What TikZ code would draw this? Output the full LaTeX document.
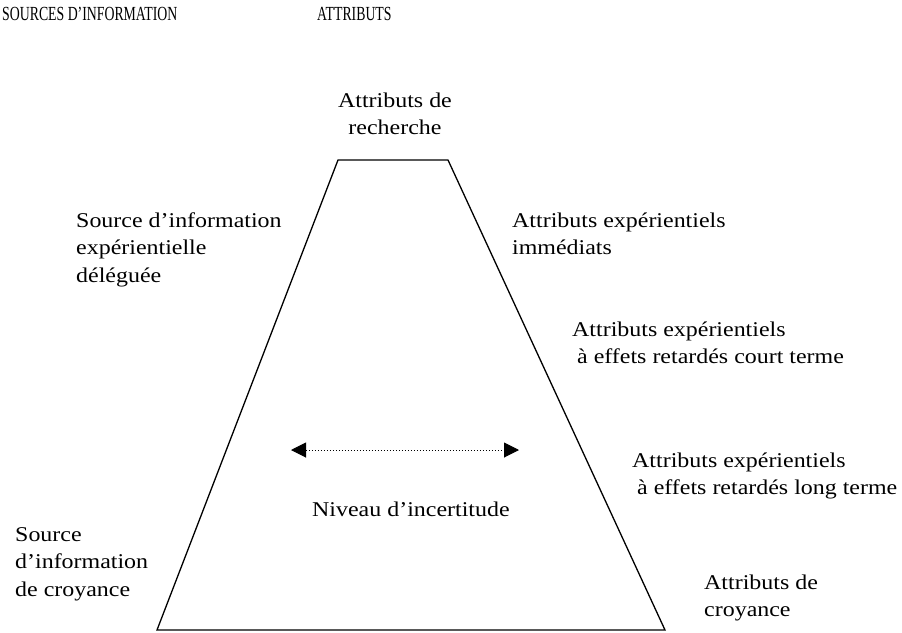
\documentclass[tikz,border=0pt]{standalone}
\usepackage{fontspec}
\setmainfont[FakeStretch=1.14]{Liberation Serif}
\newfontfamily\hdrfont[FakeStretch=0.69]{Liberation Serif}
\usetikzlibrary{arrows.meta}
\begin{document}
\begin{tikzpicture}[x=1pt,y=-1pt,
  % multi-line labels are placed by the baseline of their last line
  lbl/.style={anchor=base west,inner sep=0pt,align=left,
    font=\fontsize{21}{27.5}\selectfont},
  hdr/.style={anchor=base west,inner sep=0pt,
    font=\hdrfont\fontsize{20}{24}\selectfont},
  trap/.style={draw=black,line width=1.3pt,line join=miter},
  level/.style={dotted,line width=1pt,
    {Triangle[length=15pt,width=15pt]}-{Triangle[length=15pt,width=15pt]}}]
  \useasboundingbox (0,0) rectangle (902,632);

  % column headings
  \node[hdr] (hsrc) at (2,20.7) {SOURCES D’INFORMATION};
  \node[hdr] (hatt) at (317,20.7) {ATTRIBUTS};

  % the pyramid of uncertainty
  \coordinate (tl) at (338,160);
  \coordinate (tr) at (448,160);
  \coordinate (br) at (665,630);
  \coordinate (bl) at (157,630);
  \draw[trap] (tl) -- (tr) -- (br) -- (bl) -- cycle;

  % level of uncertainty indicator
  \coordinate (al) at (291,450);
  \coordinate (ar) at (519,450);
  \draw[level] (al) -- (ar);
  \node[lbl] (niv) at (312,516) {Niveau d’incertitude};

  % attributes along the right side
  \node[lbl,anchor=base,align=center] (rech) at (395,134.5) {Attributs de\\recherche};
  \node[lbl] (imm) at (512,254.5) {Attributs expérientiels\\immédiats};
  \node[lbl] (court) at (572,363.5) {Attributs expérientiels\\\hspace*{5pt}à effets retardés court terme};
  \node[lbl] (long) at (632,494.5) {Attributs expérientiels\\\hspace*{5pt}à effets retardés long terme};
  \node[lbl] (croy) at (704,616.5) {Attributs de\\croyance};

  % information sources on the left
  \node[lbl] (deleg) at (76,282) {Source d’information\\expérientielle\\déléguée};
  \node[lbl] (scroy) at (15,596) {Source\\d’information\\de croyance};
\end{tikzpicture}
\end{document}
